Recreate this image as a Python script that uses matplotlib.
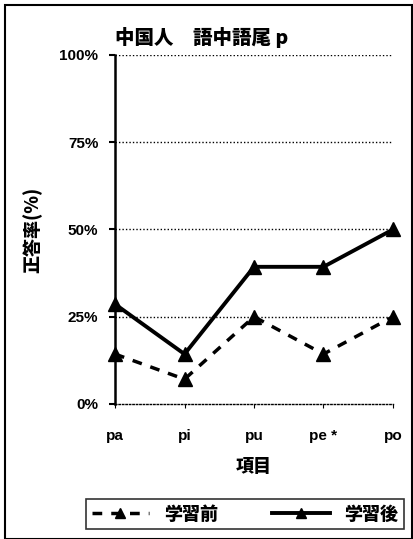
import matplotlib.pyplot as plt
from matplotlib.patches import Rectangle
from matplotlib.ticker import PercentFormatter

plt.rcParams['font.family'] = ['Liberation Sans', 'Noto Sans CJK JP']
plt.rcParams['font.weight'] = 'bold'

items = ['pa', 'pi', 'pu', 'pe *', 'po']
before = [14.3, 7.1, 25.0, 14.3, 25.0]
after = [28.6, 14.3, 39.3, 39.3, 50.0]
yticks = [0, 25, 50, 75, 100]

cjk = ['Noto Sans CJK JP', 'Liberation Sans']

fig = plt.figure(figsize=(4.13, 5.39), dpi=100)
ax = fig.add_axes([0.2785, 0.2505, 0.673, 0.6475])

x = range(len(items))
ax.plot(x, before, color='black', lw=2.5, ls=(0, (2.8, 2.6)),
        marker='^', ms=10, label='学習前', clip_on=False)
ax.plot(x, after, color='black', lw=2.8, ls='-',
        marker='^', ms=10, label='学習後', clip_on=False)

ax.set_xlim(0, len(items) - 1)
ax.set_ylim(0, 100)
ax.set_yticks(yticks)
ax.yaxis.set_major_formatter(PercentFormatter(decimals=0))
ax.set_xticks(list(x))
ax.set_xticklabels(items)
ax.tick_params(axis='x', length=3, pad=15, labelsize=11)
ax.tick_params(axis='y', length=4, width=1.5, pad=8, labelsize=11)

for v in yticks[1:]:
    ax.axhline(v, color='black', lw=1, ls=(0, (1, 1.5)))

for s in ['top', 'right']:
    ax.spines[s].set_visible(False)
ax.spines['left'].set_linewidth(1.8)
ax.spines['bottom'].set_linestyle((0, (1, 1.5)))
ax.spines['bottom'].set_linewidth(1)

ax.set_title('中国人　語中語尾 p', fontsize=14, fontweight='heavy', pad=8, x=0.31,
             family=cjk)
ax.set_ylabel('正答率(%)', fontsize=13, fontweight='heavy', labelpad=12, family=cjk)
ax.set_xlabel('項目', fontsize=13, fontweight='heavy', labelpad=10, family=cjk)

leg = fig.legend(loc='center', bbox_to_anchor=(0.593, 0.046), ncol=2, frameon=True,
                 fancybox=False, edgecolor='black', handlelength=3.2,
                 columnspacing=3.0, borderpad=0.3, markerscale=0.7,
                 prop={'family': cjk, 'size': 13, 'weight': 'heavy'})
leg.get_frame().set_linewidth(1.2)

fig.patches.append(Rectangle((0.012, 0.0), 0.985, 0.99, transform=fig.transFigure,
                             fill=False, edgecolor='black', lw=1.5))

fig.savefig('out.png', dpi=100)
